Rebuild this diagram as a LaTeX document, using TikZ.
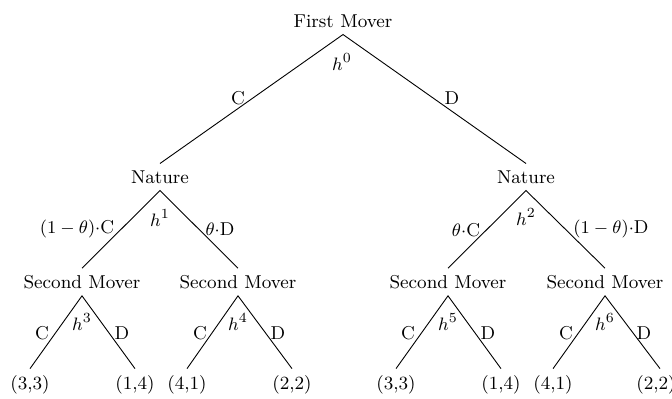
\documentclass[tikz,border=0pt]{standalone}
\begin{document}
\begin{tikzpicture}[x=0.5pt,y=-0.5pt,
  every node/.style={font=\fontsize{9.3}{11}\selectfont},
  lbl/.style={inner sep=0pt},
  edge/.style={line width=0.45pt}]
\useasboundingbox (0,0) rectangle (672,398);
% decision nodes
\node (fm) at (343,21) {First Mover};
\node (nl) at (160,177) {Nature};
\node (nr) at (526,177) {Nature};
\node (s1) at (82,282) {Second Mover};
\node (s2) at (238,282) {Second Mover};
\node (s3) at (448,282) {Second Mover};
\node (s4) at (605,282) {Second Mover};
% leaves
\node (l1) at (30,385) {(3,3)};
\node (l2) at (135,385) {(1,4)};
\node (l3) at (187,385) {(4,1)};
\node (l4) at (292,385) {(2,2)};
\node (l5) at (396,385) {(3,3)};
\node (l6) at (501,385) {(1,4)};
\node (l7) at (553,385) {(4,1)};
\node (l8) at (656,385) {(2,2)};
% edges
\draw[edge] (nl.north) -- (fm.south) -- (nr.north);
\draw[edge] (s1.north) -- (nl.south) -- (s2.north);
\draw[edge] (s3.north) -- (nr.south) -- (s4.north);
\draw[edge] (l1.north) -- (s1.south) -- (l2.north);
\draw[edge] (l3.north) -- (s2.south) -- (l4.north);
\draw[edge] (l5.north) -- (s3.south) -- (l6.north);
\draw[edge] (l7.north) -- (s4.south) -- ([xshift=2]l8.north);
% history labels
\node[lbl] (h0) at (342,62) {$h^0$};
\node[lbl] (h1) at (160,218) {$h^1$};
\node[lbl] (h2) at (526,217) {$h^2$};
\node[lbl] (h3) at (82,322) {$h^3$};
\node[lbl] (h4) at (238,322) {$h^4$};
\node[lbl] (h5) at (448,322) {$h^5$};
\node[lbl] (h6) at (605,322) {$h^6$};
% action labels
\node[lbl] (a0c) at (238,98) {C};
\node[lbl] (a0d) at (452,98) {D};
\node[lbl] (a1c) at (77,229) {$(1-\theta)\cdot$C};
\node[lbl] (a1d) at (220,229) {$\theta\cdot$D};
\node[lbl] (a2c) at (466,230) {$\theta\cdot$C};
\node[lbl] (a2d) at (611,229) {$(1-\theta)\cdot$D};
\node[lbl] (a3c) at (42,333) {C};
\node[lbl] (a3d) at (122,333) {D};
\node[lbl] (a4c) at (200,333) {C};
\node[lbl] (a4d) at (278,333) {D};
\node[lbl] (a5c) at (408,333) {C};
\node[lbl] (a5d) at (488,333) {D};
\node[lbl] (a6c) at (566,333) {C};
\node[lbl] (a6d) at (644,333) {D};
\end{tikzpicture}
\end{document}
